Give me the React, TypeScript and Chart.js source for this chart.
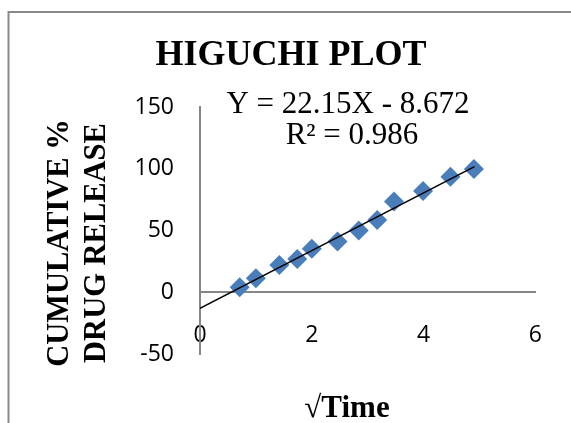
import { useEffect, useRef } from 'react';
import { Chart, registerables } from 'chart.js';

Chart.register(...registerables);

// ---- data ----
const sqrtTime = [0.71, 1.0, 1.42, 1.74, 2.0, 2.46, 2.84, 3.17, 3.47, 3.99, 4.48, 4.9];
const releasePct = [4.0, 11.3, 22.1, 27.0, 35.3, 41.0, 49.9, 58.5, 73.4, 82.0, 93.6, 99.8];
const trendX = [0, 4.91];
const trendY = [-13.0, 101.7];
const xTicks = [0, 2, 4, 6];
const yTicks = [-50, 0, 50, 100, 150];
const chartTitle = 'HIGUCHI PLOT';
const equationLines = ['Y = 22.15X - 8.672', 'R² = 0.986'];
const xTitle = '√Time';
const yTitleLines = ['CUMULATIVE %', 'DRUG RELEASE'];

const SERIF = '"Liberation Serif", "Times New Roman", serif';
const SANS = '"Open Sans", sans-serif';

const textPlugin = {
  id: 'textPlugin',
  beforeDraw(chart: any) {
    const ctx = chart.ctx;
    ctx.save();
    ctx.strokeStyle = '#898989';
    ctx.lineWidth = 2;
    ctx.strokeRect(8.5, 12, 700, 600);
    ctx.restore();
  },
  afterDraw(chart: any) {
    const ctx = chart.ctx;
    ctx.save();
    ctx.fillStyle = '#000';
    ctx.textAlign = 'center';
    ctx.textBaseline = 'alphabetic';
    ctx.font = `bold 36px ${SERIF}`;
    ctx.fillText(chartTitle, 291, 65);
    ctx.font = `31px ${SERIF}`;
    ctx.fillText(equationLines[0], 348, 113);
    ctx.fillText(equationLines[1], 352, 144);
    ctx.font = `bold 31px ${SERIF}`;
    ctx.fillText(xTitle, 347, 417);
    ctx.translate(60, 243);
    ctx.rotate(-Math.PI / 2);
    ctx.textBaseline = 'middle';
    ctx.font = `bold 30.5px ${SERIF}`;
    ctx.fillText(yTitleLines[0], 0, 0);
    ctx.fillText(yTitleLines[1], 0, 37);
    ctx.restore();
  },
};

export default function App() {
  const ref = useRef<HTMLCanvasElement>(null);
  useEffect(() => {
    if (!ref.current) return;
    const chart = new Chart(ref.current, {
      type: 'scatter',
      data: {
        datasets: [
          {
            label: 'Trend',
            data: trendX.map((x, i) => ({ x, y: trendY[i] })),
            showLine: true,
            borderColor: '#000',
            borderWidth: 1.5,
            pointRadius: 0,
            fill: false,
          },
          {
            label: 'Release',
            data: sqrtTime.map((x, i) => ({ x, y: releasePct[i] })),
            showLine: false,
            pointStyle: 'rectRot',
            pointRadius: 10,
            pointBackgroundColor: '#4a7ebb',
            pointBorderWidth: 0,
            backgroundColor: '#4a7ebb',
            borderColor: '#4a7ebb',
          },
        ],
      },
      options: {
        animation: false,
        responsive: false,
        maintainAspectRatio: false,
        layout: { padding: { left: 0, right: 32, top: 107, bottom: 69 } },
        plugins: { legend: { display: false }, title: { display: false }, tooltip: { enabled: false } },
        scales: {
          x: {
            type: 'linear',
            position: { y: 0 } as any,
            min: xTicks[0],
            max: xTicks[xTicks.length - 1],
            afterBuildTicks: (s: any) => { s.ticks = xTicks.map((v) => ({ value: v })); },
            grid: { display: false, drawTicks: false },
            border: { display: true, color: '#868686', width: 2 },
            ticks: { color: '#000', padding: 29, font: { family: SANS, size: 23 } },
          },
          y: {
            type: 'linear',
            position: 'left',
            min: yTicks[0],
            max: yTicks[yTicks.length - 1],
            afterBuildTicks: (s: any) => { s.ticks = yTicks.map((v) => ({ value: v })); },
            afterFit: (s: any) => { s.width = 200; },
            grid: { display: false, drawTicks: false },
            border: { display: true, color: '#868686', width: 2 },
            ticks: { color: '#000', padding: 26, font: { family: SANS, size: 23 } },
          },
        },
      },
      plugins: [textPlugin],
    });
    return () => chart.destroy();
  }, []);
  return (
    <div style={{ position: 'fixed', left: 0, top: 0, width: 571, height: 423, background: '#fff' }}>
      <canvas ref={ref} width={571} height={423} style={{ display: 'block' }} />
    </div>
  );
}
